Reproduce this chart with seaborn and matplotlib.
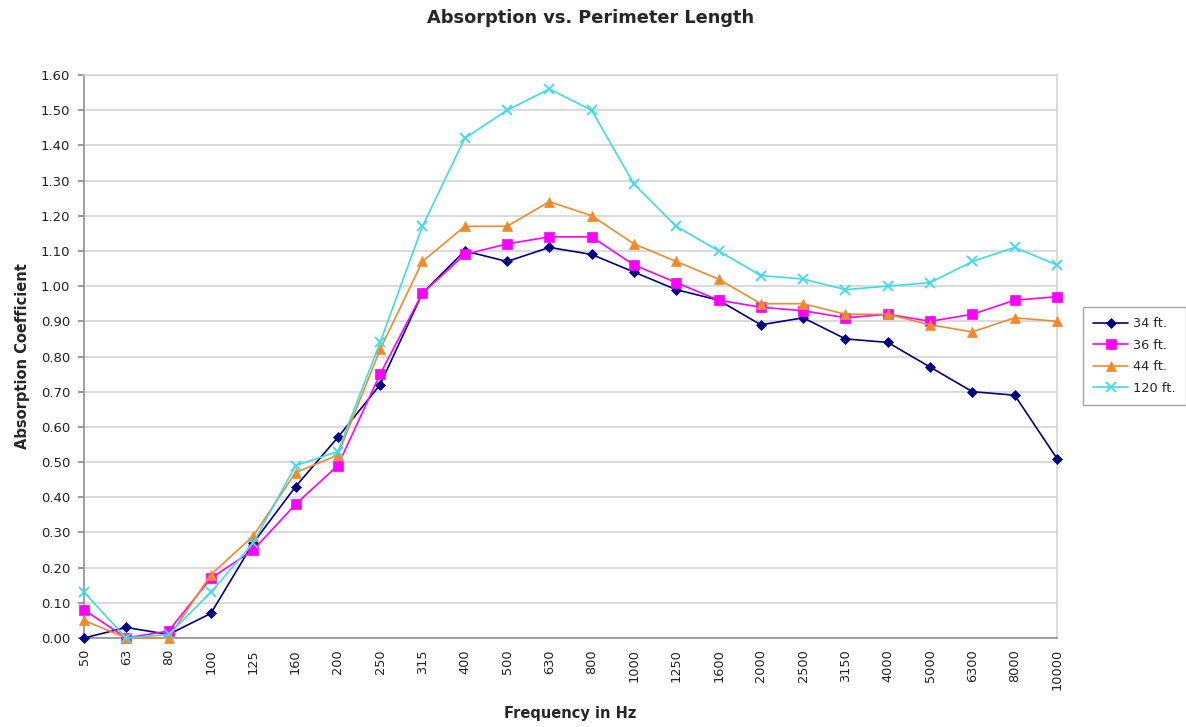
import numpy as np
import pandas as pd
import seaborn as sns
import matplotlib
matplotlib.use("Agg")
import matplotlib.pyplot as plt
from matplotlib.ticker import FixedLocator, FormatStrFormatter

frequencies = ["50", "63", "80", "100", "125", "160", "200", "250", "315", "400",
               "500", "630", "800", "1000", "1250", "1600", "2000", "2500", "3150",
               "4000", "5000", "6300", "8000", "10000"]

ft34 = [0.00, 0.03, 0.01, 0.07, 0.27, 0.43, 0.57, 0.72, 0.98, 1.10, 1.07, 1.11,
        1.09, 1.04, 0.99, 0.96, 0.89, 0.91, 0.85, 0.84, 0.77, 0.70, 0.69, 0.51]
ft36 = [0.08, 0.00, 0.02, 0.17, 0.25, 0.38, 0.49, 0.75, 0.98, 1.09, 1.12, 1.14,
        1.14, 1.06, 1.01, 0.96, 0.94, 0.93, 0.91, 0.92, 0.90, 0.92, 0.96, 0.97]
ft44 = [0.05, 0.00, 0.00, 0.18, 0.29, 0.47, 0.52, 0.82, 1.07, 1.17, 1.17, 1.24,
        1.20, 1.12, 1.07, 1.02, 0.95, 0.95, 0.92, 0.92, 0.89, 0.87, 0.91, 0.90]
ft120 = [0.13, 0.00, 0.01, 0.13, 0.27, 0.49, 0.53, 0.84, 1.17, 1.42, 1.50, 1.56,
         1.50, 1.29, 1.17, 1.10, 1.03, 1.02, 0.99, 1.00, 1.01, 1.07, 1.11, 1.06]

series_names = ["34 ft.", "36 ft.", "44 ft.", "120 ft."]
series_values = [ft34, ft36, ft44, ft120]

rows = []
for name, vals in zip(series_names, series_values):
    for i, v in enumerate(vals):
        rows.append({"idx": i, "value": v, "series": name})
df = pd.DataFrame(rows)

sns.set_theme(style="white")
plt.rcParams["font.family"] = ["DejaVu Sans"]

fig = plt.figure(figsize=(11.86, 7.27), dpi=100)
ax = fig.add_axes([84 / 1186, 1 - 638 / 727, (1057 - 84) / 1186, (638 - 75) / 727])

palette = {"34 ft.": "#000080", "36 ft.": "#FF00FF", "44 ft.": "#F08A2C", "120 ft.": "#3CDCE8"}
markers = {"34 ft.": "D", "36 ft.": "s", "44 ft.": "^", "120 ft.": "x"}
sizes_m = {"34 ft.": 5, "36 ft.": 7, "44 ft.": 7, "120 ft.": 7}

for name in series_names:
    sub = df[df["series"] == name]
    sns.lineplot(data=sub, x="idx", y="value", ax=ax, color=palette[name],
                 marker=markers[name], markersize=sizes_m[name],
                 markeredgecolor=palette[name], markeredgewidth=1.3 if name == "120 ft." else 0.5,
                 linewidth=1.2, label=name, clip_on=False, zorder=3)

ax.set_xlim(0, len(frequencies) - 1)
ax.set_ylim(0, 1.6)
ax.set_xticks(range(len(frequencies)))
ax.set_xticklabels(frequencies, rotation=90, fontsize=9.3, color="#222222")
ax.xaxis.set_minor_locator(FixedLocator(list(range(1, len(frequencies), 2))))
ax.tick_params(axis="x", which="major", length=0, pad=8)
ax.tick_params(axis="x", which="minor", length=4, color="#909090", bottom=True)
ax.set_yticks(np.arange(0, 1.61, 0.1))
ax.yaxis.set_major_formatter(FormatStrFormatter("%.2f"))
ax.tick_params(axis="y", labelsize=9.5, length=4, color="#909090", left=True, labelcolor="#222222", pad=6)

ax.grid(axis="y", color="#d4d4d4", linewidth=1.2)
ax.grid(axis="x", visible=False)
ax.set_axisbelow(True)
for side in ["top", "right"]:
    ax.spines[side].set_color("#d4d4d4")
    ax.spines[side].set_linewidth(1.2)
for side in ["left", "bottom"]:
    ax.spines[side].set_color("#909090")
    ax.spines[side].set_linewidth(1.2)

ax.set_xlabel("Frequency in Hz", fontsize=10.5, fontweight="bold", labelpad=11)
ax.set_ylabel("Absorption Coefficient", fontsize=10.5, fontweight="bold", labelpad=8)
fig.text(0.498, 1 - 18 / 727, "Absorption vs. Perimeter Length", ha="center", va="center",
         fontsize=12.8, fontweight="bold")

handles, labels = ax.get_legend_handles_labels()
if ax.get_legend():
    ax.get_legend().remove()
leg = fig.legend(handles, labels, loc="upper left", bbox_to_anchor=(1083 / 1186, 1 - 307 / 727),
                 fontsize=9.3, frameon=True, fancybox=False, edgecolor="#909090",
                 handlelength=2.7, borderpad=0.8, labelspacing=0.65, handletextpad=0.4,
                 borderaxespad=0)
leg.get_frame().set_linewidth(1.0)

fig.savefig("out.png", dpi=100)
